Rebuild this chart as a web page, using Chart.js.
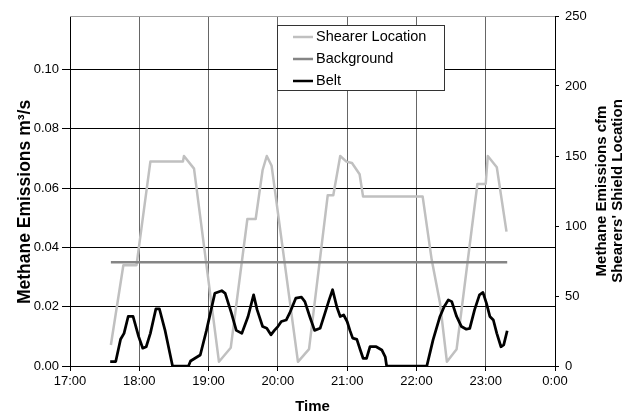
<!DOCTYPE html>
<html><head><meta charset="utf-8">
<script src="https://cdn.jsdelivr.net/npm/chart.js@4/dist/chart.umd.min.js"></script>
<style>html,body{margin:0;padding:0;background:#fff;}canvas{display:block;}</style>
</head><body>
<canvas id="c" width="642" height="418"></canvas>
<script>
// ---- data (time in decimal hours) ----
const xTickLabels = ['17:00','18:00','19:00','20:00','21:00','22:00','23:00','0:00'];
const seriesNames = ['Shearer Location','Background','Belt'];
const leftTitle = 'Methane Emissions m\u00B3/s';
const rightTitle = ['Methane Emissions cfm', "Shearers' Shield Location"];
const xTitle = 'Time';

const shearerTime = [17.59,17.77,17.96,18.16,18.63,18.645,18.79,19.15,19.32,19.56,19.68,19.78,19.84,19.91,20.29,20.45,20.72,20.80,20.90,20.99,21.07,21.18,21.23,22.09,22.22,22.34,22.44,22.58,22.88,23.00,23.03,23.16,23.30];
const shearerLocation = [15,72,72,146,146,150,141,3,13,105,105,140,150,143,3,12,122,122,150,146,145,137,121,121,76,45,3,12,130,130,150,142,96];

const backgroundTime = [17.59, 23.31];
const backgroundValue = [0.035, 0.035];

const beltTime = [17.58,17.66,17.73,17.78,17.84,17.91,17.99,18.05,18.10,18.16,18.24,18.29,18.37,18.48,18.71,18.74,18.88,18.97,19.09,19.19,19.24,19.33,19.40,19.48,19.57,19.65,19.70,19.78,19.84,19.90,19.95,20.00,20.05,20.12,20.17,20.26,20.34,20.39,20.46,20.53,20.61,20.68,20.74,20.79,20.85,20.90,20.95,21.00,21.04,21.08,21.14,21.19,21.23,21.28,21.33,21.42,21.50,21.55,21.57,22.15,22.24,22.34,22.40,22.46,22.51,22.58,22.65,22.72,22.77,22.84,22.91,22.96,23.01,23.06,23.11,23.16,23.22,23.26,23.31];
const beltValue = [0.0015,0.0015,0.009,0.011,0.0167,0.0167,0.010,0.006,0.0065,0.011,0.0193,0.0193,0.0122,0.0,0.0,0.0017,0.0037,0.012,0.0245,0.0254,0.0245,0.0178,0.012,0.011,0.0167,0.024,0.019,0.0133,0.0127,0.0105,0.012,0.0133,0.015,0.0155,0.0178,0.0229,0.0232,0.0217,0.0167,0.012,0.0127,0.0178,0.0223,0.0257,0.020,0.0167,0.0172,0.015,0.012,0.0094,0.009,0.0054,0.0026,0.0026,0.0065,0.0065,0.0054,0.0031,0.0,0.0,0.0088,0.0167,0.020,0.0223,0.0217,0.0167,0.0133,0.0124,0.0127,0.019,0.024,0.0248,0.0212,0.0167,0.0155,0.011,0.0065,0.0071,0.0119];

const zip = (xs, ys) => xs.map((x, i) => ({x: x, y: ys[i]}));
const FONT = "'Liberation Sans', Arial, sans-serif";
const colors = ['#c0c0c0', '#858585', '#000000'];

Chart.defaults.font.family = FONT;
Chart.defaults.color = '#000';

const decor = {
  id: 'decor',
  afterDatasetsDraw(chart) {
    const ctx = chart.ctx, a = chart.chartArea;
    ctx.save();
    // top border of plot
    ctx.strokeStyle = '#a0a0a0'; ctx.lineWidth = 1;
    ctx.beginPath(); ctx.moveTo(a.left, a.top + 0.5); ctx.lineTo(a.right, a.top + 0.5); ctx.stroke();
    // legend box
    ctx.fillStyle = '#fff';
    ctx.fillRect(277.5, 25.5, 167, 65);
    ctx.strokeStyle = '#333'; ctx.lineWidth = 1;
    ctx.strokeRect(277.5, 25.5, 167, 65);
    ctx.font = '14.5px ' + FONT;
    ctx.textAlign = 'left'; ctx.textBaseline = 'middle';
    const ys = [37, 59, 81];
    seriesNames.forEach((n, i) => {
      ctx.strokeStyle = colors[i]; ctx.lineWidth = 2.5;
      ctx.beginPath(); ctx.moveTo(293, ys[i]); ctx.lineTo(313, ys[i]); ctx.stroke();
      ctx.fillStyle = '#000';
      ctx.fillText(n, 316, ys[i]);
    });
    ctx.restore();
  },
  afterDraw(chart) {
    const ctx = chart.ctx, a = chart.chartArea;
    const midY = (a.top + a.bottom) / 2;
    ctx.save();
    ctx.fillStyle = '#000';
    ctx.textAlign = 'center'; ctx.textBaseline = 'middle';
    ctx.font = 'bold 17.5px ' + FONT;
    ctx.save(); ctx.translate(25, 202); ctx.rotate(-Math.PI / 2); ctx.fillText(leftTitle, 0, 0); ctx.restore();
    ctx.font = 'bold 15px ' + FONT;
    ctx.save(); ctx.translate(602, midY); ctx.rotate(-Math.PI / 2); ctx.fillText(rightTitle[0], 0, 0); ctx.restore();
    ctx.save(); ctx.translate(618, midY); ctx.rotate(-Math.PI / 2); ctx.fillText(rightTitle[1], 0, 0); ctx.restore();
    ctx.fillText(xTitle, (a.left + a.right) / 2, 407);
    ctx.restore();
  }
};

new Chart(document.getElementById('c'), {
  type: 'line',
  data: {
    datasets: [
      {label: seriesNames[0], data: zip(shearerTime, shearerLocation), yAxisID: 'y2', borderColor: colors[0], borderWidth: 2.5, pointRadius: 0, tension: 0, order: 3},
      {label: seriesNames[1], data: zip(backgroundTime, backgroundValue), yAxisID: 'y', borderColor: colors[1], borderWidth: 2.5, pointRadius: 0, tension: 0, order: 2},
      {label: seriesNames[2], data: zip(beltTime, beltValue), yAxisID: 'y', borderColor: colors[2], borderWidth: 2.75, pointRadius: 0, tension: 0, order: 1}
    ]
  },
  options: {
    responsive: false, animation: false, devicePixelRatio: 1,
    layout: {padding: {top: 16, left: 0, right: 0, bottom: 0}},
    elements: {line: {borderJoinStyle: 'round', borderCapStyle: 'butt'}},
    plugins: {legend: {display: false}, tooltip: {enabled: false}},
    scales: {
      x: {
        type: 'linear', min: 17, max: 24,
        ticks: {stepSize: 1, autoSkip: false, maxRotation: 0, padding: 3, font: {size: 13},
          callback: (v) => xTickLabels[Math.round(v - 17)]},
        grid: {color: '#666', tickColor: '#000', tickLength: 5, lineWidth: 1},
        border: {color: '#000', width: 1},
        afterFit: (s) => { s.height = 52; }
      },
      y: {
        position: 'left', min: 0, max: 0.118,
        ticks: {stepSize: 0.02, includeBounds: false, padding: 3, font: {size: 13},
          callback: (v) => v.toFixed(2)},
        grid: {color: '#000', tickColor: '#000', tickLength: 8, lineWidth: 1},
        border: {color: '#000', width: 1},
        afterFit: (s) => { s.width = 70; }
      },
      y2: {
        position: 'right', min: 0, max: 250,
        ticks: {stepSize: 50, padding: 6, font: {size: 13}},
        grid: {drawOnChartArea: false, tickColor: '#000', tickLength: 4},
        border: {color: '#000', width: 1},
        afterFit: (s) => { s.width = 87; }
      }
    }
  },
  plugins: [decor]
});
</script>
</body></html>
